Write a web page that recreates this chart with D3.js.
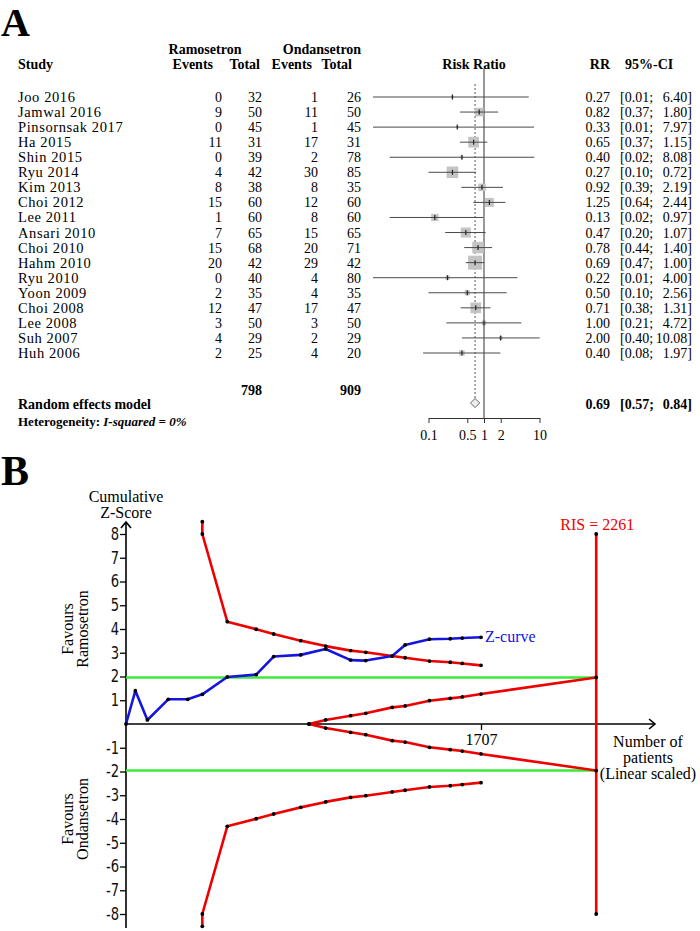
<!DOCTYPE html>
<html>
<head>
<meta charset="utf-8">
<script src="https://cdn.jsdelivr.net/npm/d3@7/dist/d3.min.js"></script>
<style>
body{margin:0;background:#fff;}
svg{display:block;}
</style>
</head>
<body>
<svg id="chart" width="700" height="931"></svg>
<script>
// ================= Panel A data (forest plot) =================
const studies = ["Joo 2016","Jamwal 2016","Pinsornsak 2017","Ha 2015","Shin 2015","Ryu 2014","Kim 2013","Choi 2012","Lee 2011","Ansari 2010","Choi 2010","Hahm 2010","Ryu 2010","Yoon 2009","Choi 2008","Lee 2008","Suh 2007","Huh 2006"];
const ramoEvents = [0,9,0,11,0,4,8,15,1,7,15,20,0,2,12,3,4,2];
const ramoTotal  = [32,50,45,31,39,42,38,60,60,65,68,42,40,35,47,50,29,25];
const ondaEvents = [1,11,1,17,2,30,8,12,8,15,20,29,4,4,17,3,2,4];
const ondaTotal  = [26,50,45,31,78,85,35,60,60,65,71,42,80,35,47,50,29,20];
const rr      = [0.27,0.82,0.33,0.65,0.40,0.27,0.92,1.25,0.13,0.47,0.78,0.69,0.22,0.50,0.71,1.00,2.00,0.40];
const ciLower = [0.01,0.37,0.01,0.37,0.02,0.10,0.39,0.64,0.02,0.20,0.44,0.47,0.01,0.10,0.38,0.21,0.40,0.08];
const ciUpper = [6.40,1.80,7.97,1.15,8.08,0.72,2.19,2.44,0.97,1.07,1.40,1.00,4.00,2.56,1.31,4.72,10.08,1.97];
const weights = [0.6,6.2,0.6,9.6,0.8,11.3,4.7,6.8,4.5,8.5,11.1,16.5,1.5,2.3,9.6,1.7,1.1,2.5];
const pooledRR = 0.69, pooledLower = 0.57, pooledUpper = 0.84;
const totalRamo = 798, totalOnda = 909;
const rrTicks = [0.1, 0.5, 1, 2, 10];

// ================= Panel B data (trial sequential analysis) =================
const cumPatients = [0,45,103,203,297,367,487,626,710,840,960,1080,1153,1280,1342,1459,1559,1617,1707];
const zCurve      = [0,1.40,0.17,1.04,1.04,1.25,1.98,2.08,2.84,2.91,3.16,2.69,2.67,2.86,3.33,3.57,3.59,3.62,3.65];
const boundaryPatients = [367,367,487,626,710,840,960,1080,1153,1280,1342,1459,1559,1617,1707];
const upperBoundary = [8.52,8.0,4.31,3.99,3.79,3.51,3.28,3.09,3.02,2.86,2.79,2.65,2.60,2.55,2.47];
const lowerBoundary = [-8.52,-8.0,-4.31,-3.99,-3.79,-3.51,-3.28,-3.09,-3.02,-2.86,-2.79,-2.65,-2.60,-2.55,-2.47];
const futilityPatients = [880,960,1080,1153,1280,1342,1459,1559,1617,1707,2261];
const upperFutility = [0,0.17,0.35,0.45,0.70,0.76,0.98,1.08,1.14,1.26,1.96];
const lowerFutility = [0,-0.17,-0.35,-0.45,-0.70,-0.76,-0.98,-1.08,-1.14,-1.26,-1.96];
const risValue = 2261;
const significanceZ = [1.96, -1.96];
const zTicks = [-8,-7,-6,-5,-4,-3,-2,-1,1,2,3,4,5,6,7,8];
const xTickValues = [1707];

// ================= drawing =================
const svg = d3.select("#chart");
const SERIF = "'Liberation Serif','Times New Roman',Times,serif";
const NARROW = "'Liberation Sans Narrow','Arial Narrow','DejaVu Sans Condensed','Liberation Sans',sans-serif";

// ---------- Panel A ----------
const A = svg.append("g").attr("font-family", SERIF).attr("fill", "#000");
A.append("text").attr("x", 1).attr("y", 36).attr("font-size", 40).attr("font-weight", "bold").text("A");

const hdr = A.append("g").attr("font-size", 14).attr("font-weight", "bold");
hdr.append("text").attr("x", 205).attr("y", 54).attr("text-anchor", "middle").text("Ramosetron");
hdr.append("text").attr("x", 322).attr("y", 54).attr("text-anchor", "middle").text("Ondansetron");
const hy = 69;
hdr.append("text").attr("x", 18).attr("y", hy).text("Study");
[["Events", 213], ["Total", 260], ["Events", 312], ["Total", 352]].forEach(([t, x]) =>
  hdr.append("text").attr("x", x).attr("y", hy).attr("text-anchor", "end").text(t));
hdr.append("text").attr("x", 474).attr("y", hy).attr("text-anchor", "middle").text("Risk Ratio");
hdr.append("text").attr("x", 610).attr("y", hy).attr("text-anchor", "end").text("RR");
hdr.append("text").attr("x", 625).attr("y", hy).text("95%-CI");

const yRow = d3.scalePoint().domain(studies).range([97, 353]);
const xRR = d3.scaleLog().domain([0.1, 10]).range([428.5, 539.5]);
const boxSize = d3.scaleSqrt().domain([0, d3.max(weights)]).range([0, 14]);

// reference lines
A.append("line").attr("x1", xRR(1)).attr("x2", xRR(1)).attr("y1", 69).attr("y2", 418)
  .attr("stroke", "#333").attr("stroke-width", 1);
A.append("line").attr("x1", xRR(pooledRR)).attr("x2", xRR(pooledRR)).attr("y1", 84).attr("y2", 399)
  .attr("stroke", "#555").attr("stroke-width", 1).attr("stroke-dasharray", "2,2");

const rowsG = A.append("g").attr("font-size", 14);
const marks = A.append("g");
studies.forEach((s, i) => {
  const cy = yRow(s), by = cy + 5;
  rowsG.append("text").attr("x", 18).attr("y", by).attr("font-size", 14.5).attr("letter-spacing", 0.6).text(s);
  rowsG.append("text").attr("x", 222).attr("y", by).attr("text-anchor", "end").text(ramoEvents[i]);
  rowsG.append("text").attr("x", 262).attr("y", by).attr("text-anchor", "end").text(ramoTotal[i]);
  rowsG.append("text").attr("x", 318).attr("y", by).attr("text-anchor", "end").text(ondaEvents[i]);
  rowsG.append("text").attr("x", 361).attr("y", by).attr("text-anchor", "end").text(ondaTotal[i]);
  rowsG.append("text").attr("x", 610).attr("y", by).attr("text-anchor", "end").text(rr[i].toFixed(2));
  rowsG.append("text").attr("x", 620).attr("y", by).text("[" + ciLower[i].toFixed(2) + ";");
  rowsG.append("text").attr("x", 692).attr("y", by).attr("text-anchor", "end").text(ciUpper[i].toFixed(2) + "]");

  const b = boxSize(weights[i]);
  marks.append("rect").attr("x", xRR(rr[i]) - b / 2).attr("y", cy - b / 2)
    .attr("width", b).attr("height", b).attr("fill", "#c4c4c4");
  marks.append("line").attr("x1", xRR(ciLower[i])).attr("x2", xRR(ciUpper[i]))
    .attr("y1", cy).attr("y2", cy).attr("stroke", "#4a4a4a").attr("stroke-width", 1);
  marks.append("line").attr("x1", xRR(rr[i])).attr("x2", xRR(rr[i]))
    .attr("y1", cy - 2.5).attr("y2", cy + 2.5).attr("stroke", "#222").attr("stroke-width", 1.2);
});

// totals & pooled
const bold = A.append("g").attr("font-size", 14).attr("font-weight", "bold");
bold.append("text").attr("x", 262).attr("y", 395).attr("text-anchor", "end").text(totalRamo);
bold.append("text").attr("x", 361).attr("y", 395).attr("text-anchor", "end").text(totalOnda);
bold.append("text").attr("x", 18).attr("y", 409).text("Random effects model");
bold.append("text").attr("x", 610).attr("y", 409).attr("text-anchor", "end").text(pooledRR.toFixed(2));
bold.append("text").attr("x", 620).attr("y", 409).text("[" + pooledLower.toFixed(2) + ";");
bold.append("text").attr("x", 692).attr("y", 409).attr("text-anchor", "end").text(pooledUpper.toFixed(2) + "]");
const het = bold.append("text").attr("x", 18).attr("y", 426).attr("font-size", 13);
het.append("tspan").text("Heterogeneity: ");
het.append("tspan").attr("font-style", "italic").text("I-squared = 0%");

const dy = 403;
marks.append("path")
  .attr("d", `M${xRR(pooledLower)},${dy} L${xRR(pooledRR)},${dy - 4.5} L${xRR(pooledUpper)},${dy} L${xRR(pooledRR)},${dy + 4.5} Z`)
  .attr("fill", "#eee").attr("stroke", "#666").attr("stroke-width", 1);

const axA = A.append("g").attr("transform", "translate(0,418)")
  .call(d3.axisBottom(xRR).tickValues(rrTicks).tickFormat(d => String(d)).tickSize(5).tickSizeOuter(0).tickPadding(7));
axA.select(".domain").attr("stroke", "#333");
axA.selectAll(".tick line").attr("stroke", "#333");
axA.selectAll("text").attr("font-family", SERIF).attr("font-size", 14).attr("fill", "#000");

// ---------- Panel B ----------
const B = svg.append("g").attr("font-family", SERIF);
B.append("text").attr("x", 1).attr("y", 485).attr("font-size", 42).attr("font-weight", "bold").text("B");

const xP = d3.scaleLinear().domain([0, 1707]).range([126, 481]);
const yZ = d3.scaleLinear().domain([-8, 8]).range([914, 534]);
const x0 = xP(0), y0 = yZ(0);

// axes
const yAx = B.append("g").attr("transform", `translate(${x0},0)`)
  .call(d3.axisLeft(yZ).tickValues(zTicks).tickFormat(d => (d < 0 ? "-" : "") + Math.abs(d))
    .tickSize(6).tickSizeOuter(0).tickPadding(2));
yAx.select(".domain").remove();
yAx.selectAll(".tick line").attr("stroke", "#000").attr("stroke-width", 1.3);
yAx.selectAll("text").attr("font-family", NARROW).attr("font-size", 17).attr("fill", "#111")
  .attr("transform", "scale(0.86,1)");

const xAx = B.append("g").attr("transform", `translate(0,${y0})`)
  .call(d3.axisBottom(xP).tickValues(xTickValues).tickFormat(d3.format("d")).tickSize(6).tickSizeOuter(0).tickPadding(4));
xAx.select(".domain").remove();
xAx.selectAll(".tick line").attr("stroke", "#000").attr("stroke-width", 1.3);
xAx.selectAll("text").attr("font-family", SERIF).attr("font-size", 16).attr("fill", "#000");

B.append("line").attr("x1", x0).attr("x2", x0).attr("y1", 928).attr("y2", 522).attr("stroke", "#000").attr("stroke-width", 1.6);
B.append("path").attr("d", `M${x0 - 5},${528} L${x0},${522} L${x0 + 5},${528}`).attr("fill", "none").attr("stroke", "#000").attr("stroke-width", 1.6);
B.append("line").attr("x1", x0).attr("x2", 655).attr("y1", y0).attr("y2", y0).attr("stroke", "#000").attr("stroke-width", 1.6);
B.append("path").attr("d", `M649,${y0 - 5} L655,${y0} L649,${y0 + 5}`).attr("fill", "none").attr("stroke", "#000").attr("stroke-width", 1.6);

// significance lines
significanceZ.forEach(z => B.append("line").attr("x1", x0).attr("x2", xP(risValue))
  .attr("y1", yZ(z)).attr("y2", yZ(z)).attr("stroke", "#3de83d").attr("stroke-width", 2.6));

const RED = "#ee0000";
// RIS line
B.append("line").attr("x1", xP(risValue)).attr("x2", xP(risValue)).attr("y1", yZ(8)).attr("y2", yZ(-8))
  .attr("stroke", RED).attr("stroke-width", 2.6);

const line = d3.line().x(d => xP(d[0])).y(d => yZ(d[1]));
const upB = boundaryPatients.map((p, i) => [p, upperBoundary[i]]);
const loB = boundaryPatients.map((p, i) => [p, lowerBoundary[i]]);
const upF = futilityPatients.map((p, i) => [p, upperFutility[i]]);
const loF = futilityPatients.map((p, i) => [p, lowerFutility[i]]);
const zc = cumPatients.map((p, i) => [p, zCurve[i]]);
[upB, loB, upF, loF].forEach(d => B.append("path").attr("d", line(d)).attr("fill", "none")
  .attr("stroke", RED).attr("stroke-width", 2.6).attr("stroke-linejoin", "round"));
B.append("path").attr("d", line(zc)).attr("fill", "none").attr("stroke", "#1515dd")
  .attr("stroke-width", 2.6).attr("stroke-linejoin", "round");

// markers
const dots = [].concat(upB, loB, upF, loF, zc, [[risValue, 8], [risValue, -8]]);
B.append("g").selectAll("circle").data(dots).join("circle")
  .attr("cx", d => xP(d[0])).attr("cy", d => yZ(d[1])).attr("r", 1.9).attr("fill", "#000");

// labels
const lab = B.append("g").attr("font-size", 16);
lab.append("text").attr("x", x0).attr("y", 502).attr("text-anchor", "middle").text("Cumulative");
lab.append("text").attr("x", x0).attr("y", 518).attr("text-anchor", "middle").text("Z-Score");
lab.append("text").attr("x", xP(risValue) + 1).attr("y", 530).attr("text-anchor", "middle").attr("fill", RED).text("RIS = " + risValue);
lab.append("text").attr("x", xP(1707) + 4).attr("y", 642).attr("fill", "#1515dd").text("Z-curve");
["Number of", "patients", "(Linear scaled)"].forEach((t, i) =>
  lab.append("text").attr("x", 648).attr("y", 747 + i * 16).attr("text-anchor", "middle").text(t));

function rotLabel(cy, lines) {
  const g = lab.append("g").attr("transform", `translate(0,${cy}) rotate(-90)`);
  lines.forEach((t, i) => g.append("text").attr("x", 0).attr("y", [73, 88][i]).attr("text-anchor", "middle").text(t));
}
rotLabel(629, ["Favours", "Ramosetron"]);
rotLabel(819, ["Favours", "Ondansetron"]);
</script>
</body>
</html>
